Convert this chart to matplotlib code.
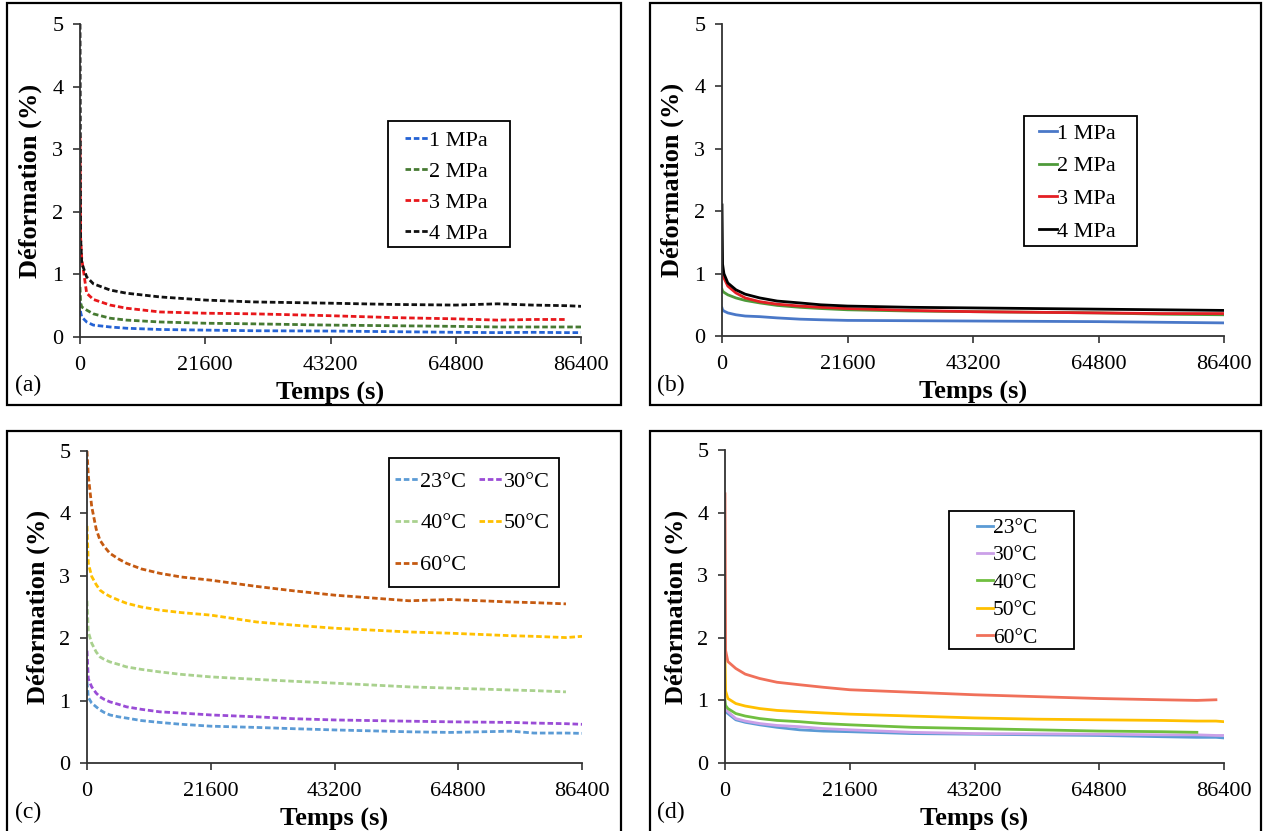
import numpy as np
import matplotlib
matplotlib.use('Agg')
import matplotlib.pyplot as plt
from matplotlib.patches import Rectangle

plt.rcParams['font.family'] = ['Liberation Serif', 'DejaVu Serif']

W, H = 1265, 831
nan = np.nan

ticks_x = [0, 21600, 43200, 64800, 86400]
ticks_y = [0, 1, 2, 3, 4, 5]

# (a) effet de la contrainte, pointillés
t_a = [0, 100, 300, 1150, 2300, 5200, 8000, 13800, 21600, 30000, 43200, 54000, 64800, 72000, 78000, 84000, 86400]
a_1mpa = [0.55, 0.40, 0.32, 0.24, 0.19, 0.16, 0.14, 0.12, 0.11, 0.10, 0.095, 0.085, 0.075, 0.07, 0.075, 0.07, 0.07]
a_2mpa = [0.80, 0.55, 0.48, 0.43, 0.37, 0.30, 0.27, 0.24, 0.22, 0.21, 0.19, 0.18, 0.17, 0.16, 0.16, 0.16, 0.16]
a_3mpa = [3.20, 1.60, 1.25, 0.70, 0.60, 0.51, 0.46, 0.40, 0.38, 0.37, 0.34, 0.31, 0.29, 0.27, 0.28, 0.28, nan]
a_4mpa = [5.00, 1.60, 1.18, 0.96, 0.85, 0.75, 0.70, 0.64, 0.59, 0.56, 0.54, 0.52, 0.51, 0.53, 0.51, 0.50, 0.49]

# (b) effet de la contrainte, traits pleins
t_b = [0, 100, 330, 1000, 2400, 4000, 6500, 9500, 13400, 17000, 21600, 32400, 43200, 54000, 64800, 75600, 86400]
b_1mpa = [0.45, 0.42, 0.40, 0.37, 0.34, 0.32, 0.31, 0.29, 0.27, 0.26, 0.25, 0.245, 0.24, 0.235, 0.23, 0.22, 0.21]
b_2mpa = [0.75, 0.72, 0.70, 0.66, 0.61, 0.57, 0.53, 0.49, 0.46, 0.44, 0.42, 0.40, 0.39, 0.38, 0.37, 0.35, 0.34]
b_3mpa = [1.05, 0.97, 0.93, 0.80, 0.69, 0.61, 0.55, 0.51, 0.48, 0.46, 0.44, 0.41, 0.39, 0.38, 0.37, 0.36, 0.36]
b_4mpa = [2.10, 1.15, 1.00, 0.85, 0.74, 0.67, 0.61, 0.56, 0.53, 0.50, 0.48, 0.46, 0.45, 0.44, 0.43, 0.42, 0.41]

# (c) effet de la température, pointillés
t_c = [0, 230, 820, 1600, 2270, 3000, 4000, 5500, 6900, 9500, 12700, 16500, 21600, 29600, 36000,
       43200, 56200, 63400, 74000, 78000, 83600, 86400]
c_23 = [1.30, 1.05, 0.96, 0.90, 0.85, 0.81, 0.77, 0.74, 0.72, 0.68, 0.65, 0.62, 0.59, 0.57, 0.55,
        0.53, 0.50, 0.49, 0.51, 0.48, 0.48, 0.475]
c_30 = [1.80, 1.35, 1.22, 1.12, 1.06, 1.02, 0.98, 0.94, 0.90, 0.86, 0.82, 0.80, 0.77, 0.74, 0.71,
        0.69, 0.67, 0.66, 0.65, 0.64, 0.63, 0.62]
c_40 = [2.60, 2.10, 1.92, 1.78, 1.70, 1.66, 1.62, 1.58, 1.54, 1.50, 1.46, 1.42, 1.38, 1.34, 1.31,
        1.28, 1.22, 1.20, 1.17, 1.16, 1.14, nan]
c_50 = [3.80, 3.20, 2.99, 2.86, 2.77, 2.72, 2.67, 2.61, 2.56, 2.50, 2.45, 2.41, 2.37, 2.26, 2.21,
        2.16, 2.10, 2.08, 2.04, 2.03, 2.01, 2.03]
c_60 = [5.00, 4.60, 4.11, 3.75, 3.57, 3.47, 3.36, 3.27, 3.20, 3.11, 3.04, 2.98, 2.93, 2.83, 2.76,
        2.69, 2.60, 2.62, 2.58, 2.57, 2.55, nan]

# (d) effet de la température, traits pleins
t_d = [0, 100, 500, 1870, 3500, 6000, 9000, 12900, 17000, 21600, 32400, 43200, 54000, 64800,
       75600, 81700, 85000, 86400]
d_23 = [0.85, 0.82, 0.79, 0.69, 0.65, 0.61, 0.57, 0.53, 0.51, 0.50, 0.47, 0.46, 0.45, 0.44,
        0.42, 0.41, 0.41, 0.40]
d_30 = [0.90, 0.86, 0.82, 0.71, 0.67, 0.63, 0.60, 0.58, 0.55, 0.53, 0.49, 0.47, 0.465, 0.46,
        0.45, 0.45, 0.44, 0.44]
d_40 = [1.00, 0.92, 0.87, 0.79, 0.75, 0.71, 0.68, 0.66, 0.63, 0.61, 0.57, 0.55, 0.53, 0.51,
        0.50, 0.49, nan, nan]
d_50 = [1.70, 1.15, 1.03, 0.95, 0.91, 0.87, 0.84, 0.82, 0.80, 0.78, 0.75, 0.72, 0.70, 0.69,
        0.68, 0.67, 0.67, 0.66]
d_60 = [4.30, 1.80, 1.62, 1.51, 1.42, 1.35, 1.29, 1.25, 1.21, 1.17, 1.13, 1.09, 1.06, 1.03,
        1.01, 1.00, 1.01, nan]

mpa_labels = ['1 MPa', '2 MPa', '3 MPa', '4 MPa']
temp_labels = ['23°C', '30°C', '40°C', '50°C', '60°C']


def px_box(left, top, right, bottom):
    return [left / W, 1 - bottom / H, (right - left) / W, (bottom - top) / H]


def frame(left, top, right, bottom, lw):
    fig.patches.append(Rectangle((left / W, 1 - bottom / H), (right - left) / W,
                                 (bottom - top) / H, transform=fig.transFigure,
                                 fill=False, ec='black', lw=lw, zorder=5))


def setup(ax):
    ax.set_xlim(0, 86400)
    ax.set_ylim(0, 5)
    ax.set_xticks(ticks_x)
    ax.set_yticks(ticks_y)
    for s in ['top', 'right']:
        ax.spines[s].set_visible(False)
    for s in ['left', 'bottom']:
        ax.spines[s].set_color('#333333')
        ax.spines[s].set_linewidth(1.3)
    ax.tick_params(direction='out', length=5, width=1.2, color='#333333',
                   labelsize=16, pad=7)
    ax.tick_params(axis='x', pad=9)
    ax.set_xlabel('Temps (s)', fontsize=19, fontweight='bold')
    ax.set_ylabel('Déformation (%)', fontsize=19, fontweight='bold')
    ax.xaxis.set_label_coords(0.5, -0.143)
    ax.yaxis.set_label_coords(-0.075, 0.5)
    ax.patch.set_alpha(0)


def add_legend(ax, handles, labels, left, top, box, fontsize=16, **kw):
    # texte et symboles sans cadre, le cadre est dessiné à part
    leg = ax.legend(handles, labels, loc='upper left',
                    bbox_to_anchor=(left / W, 1 - top / H),
                    bbox_transform=fig.transFigure, borderaxespad=0,
                    borderpad=0, frameon=False, fontsize=fontsize, **kw)
    frame(*box, lw=1.3)
    return leg


fig = plt.figure(figsize=(W / 100, H / 100), dpi=100)

# cadres des quatre panneaux
for box in [(7, 3, 621, 405), (650, 3, 1261, 405),
            (7, 431, 621, 845), (650, 431, 1261, 845)]:
    frame(*box, lw=1.6)

dash = (0, (2, 1))

# (a)
ax = fig.add_axes(px_box(80, 24, 581, 337))
setup(ax)
cols_a = ['#2462D4', '#467A32', '#E8171B', '#111111']
hs = []
for y, c in zip([a_1mpa, a_2mpa, a_3mpa, a_4mpa], cols_a):
    h, = ax.plot(t_a, y, color=c, lw=2, linestyle=dash)
    hs.append(h)
add_legend(ax, hs, mpa_labels, 405, 130, (388, 121, 510, 247),
           handlelength=1.04, handletextpad=0.05, labelspacing=0.47)

# (b)
ax = fig.add_axes(px_box(722, 24, 1224, 336))
setup(ax)
cols_b = ['#4A78C8', '#4E9A3A', '#E41E24', '#000000']
hs = []
for y, c in zip([b_1mpa, b_2mpa, b_3mpa, b_4mpa], cols_b):
    h, = ax.plot(t_b, y, color=c, lw=2)
    hs.append(h)
add_legend(ax, hs, mpa_labels, 1039, 123, (1024, 116, 1137, 246),
           handlelength=0.8, handletextpad=0.02, labelspacing=0.55)

# (c)
ax = fig.add_axes(px_box(87, 451, 582, 763))
setup(ax)
cols_c = ['#5B9BD5', '#9A4CD6', '#A9D18E', '#FFC000', '#C55A11']
hs = []
for y, c in zip([c_23, c_30, c_40, c_50, c_60], cols_c):
    h, = ax.plot(t_c, y, color=c, lw=2, linestyle=dash)
    hs.append(h)
order = [0, 2, 4, 1, 3]
add_legend(ax, [hs[i] for i in order], [temp_labels[i] for i in order],
           395, 471, (389, 458, 559, 587), ncol=2, handlelength=1.04,
           handletextpad=0.1, labelspacing=0.96, columnspacing=0.55)

# (d)
ax = fig.add_axes(px_box(725, 450, 1224, 763))
setup(ax)
cols_d = ['#5B9BD5', '#CBA0E8', '#70BF40', '#FFC000', '#F0705A']
hs = []
for y, c in zip([d_23, d_30, d_40, d_50, d_60], cols_d):
    h, = ax.plot(t_d, y, color=c, lw=2)
    hs.append(h)
add_legend(ax, hs, temp_labels, 977, 518, (949, 511, 1074, 649), fontsize=15.5,
           handlelength=0.72, handletextpad=0.02, labelspacing=0.34)

# étiquettes des panneaux
for txt, x, y in [('(a)', 15, 385), ('(b)', 657, 385), ('(c)', 15, 812), ('(d)', 657, 812)]:
    fig.text(x / W, 1 - y / H, txt, fontsize=17, ha='left', va='center')

fig.savefig('out.png', dpi=100)
